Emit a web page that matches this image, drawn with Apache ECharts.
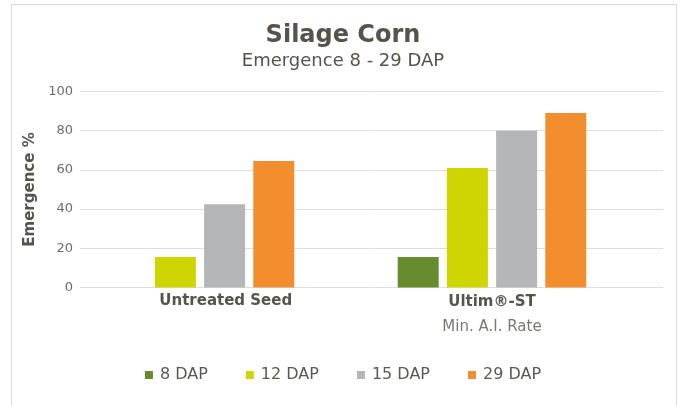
<!DOCTYPE html>
<html>
<head>
<meta charset="utf-8">
<script src="https://cdn.jsdelivr.net/npm/echarts@6/dist/echarts.min.js"></script>
<style>
  html, body { margin: 0; padding: 0; background: #fff; }
  #chart { width: 686px; height: 406px; }
</style>
</head>
<body>
<div id="chart"></div>
<script>
  // 数据
  var categories = ['Untreated Seed', 'Ultim®-ST'];
  var seriesNames = ['8 DAP', '12 DAP', '15 DAP', '29 DAP'];
  var dap8 = [null, 15.5];
  var dap12 = [15.5, 61];
  var dap15 = [42.5, 80];
  var dap29 = [64.5, 89];
  var yTicks = [0, 20, 40, 60, 80, 100];

  var colors = ['#678b2f', '#cfd500', '#b5b6b8', '#f38e2e'];
  var font = 'DejaVu Sans';

  var myChart = echarts.init(document.getElementById('chart'));

  var option = {
    animation: false,
    color: colors,
    textStyle: { fontFamily: font },
    graphic: [{
      type: 'rect',
      shape: { x: 11.5, y: 4.5, width: 665, height: 420 },
      style: { fill: 'none', stroke: '#d9d9d9', lineWidth: 1 },
      silent: true
    }],
    title: {
      text: 'Silage Corn',
      subtext: 'Emergence 8 - 29 DAP',
      left: 'center',
      top: 19,
      itemGap: 4,
      textStyle: { fontSize: 24, fontWeight: 'bold', color: '#57534a', fontFamily: font },
      subtextStyle: { fontSize: 18, color: '#57534a', fontFamily: font }
    },
    legend: {
      data: seriesNames,
      left: 'center',
      top: 362,
      icon: 'rect',
      itemWidth: 8,
      itemHeight: 8,
      itemGap: 38,
      textStyle: { fontSize: 16, color: '#595950', fontFamily: font, padding: [0, 0, 0, 2] }
    },
    // grid 0: 网格线和坐标轴, grid 1: 柱子
    grid: [
      { left: 80, right: 23, top: 91.5, height: 196 },
      { left: 54, right: 48, top: 91.5, height: 196 }
    ],
    xAxis: [
      {
        type: 'category',
        gridIndex: 0,
        data: categories,
        axisLine: { show: false },
        axisTick: { show: false },
        axisLabel: {
          interval: function (i) { return i === 0; },
          margin: 6,
          fontSize: 15,
          fontWeight: 'bold',
          color: '#55554b'
        }
      },
      {
        type: 'category',
        gridIndex: 1,
        data: categories,
        axisLine: { show: false },
        axisTick: { show: false },
        axisLabel: {
          interval: function (i) { return i === 1; },
          margin: 5,
          formatter: function (v) { return '{b|' + v + '}\n{s|Min. A.I. Rate}'; },
          rich: {
            b: { fontSize: 15, fontWeight: 'bold', color: '#55554b', lineHeight: 20, fontFamily: font },
            s: { fontSize: 15, color: '#7a7a72', lineHeight: 30, fontFamily: font }
          }
        }
      }
    ],
    yAxis: [
      {
        type: 'value',
        gridIndex: 0,
        min: yTicks[0],
        max: yTicks[yTicks.length - 1],
        interval: 20,
        name: 'Emergence %',
        nameLocation: 'middle',
        nameRotate: 90,
        nameGap: 37,
        nameTextStyle: { fontSize: 15, fontWeight: 'bold', color: '#55554b', fontFamily: font },
        axisLine: { show: false },
        axisTick: { show: false },
        axisLabel: { fontSize: 13, color: '#6b6b66', margin: 7 },
        splitLine: { lineStyle: { color: '#dedede', width: 1 } }
      },
      {
        type: 'value',
        gridIndex: 1,
        min: 0,
        max: 100,
        show: false
      }
    ],
    series: [
      { name: seriesNames[0], type: 'bar', xAxisIndex: 1, yAxisIndex: 1, data: dap8, barWidth: 41, barGap: '20%' },
      { name: seriesNames[1], type: 'bar', xAxisIndex: 1, yAxisIndex: 1, data: dap12, barWidth: 41, barGap: '20%' },
      { name: seriesNames[2], type: 'bar', xAxisIndex: 1, yAxisIndex: 1, data: dap15, barWidth: 41, barGap: '20%' },
      { name: seriesNames[3], type: 'bar', xAxisIndex: 1, yAxisIndex: 1, data: dap29, barWidth: 41, barGap: '20%' }
    ]
  };

  myChart.setOption(option);
</script>
</body>
</html>
